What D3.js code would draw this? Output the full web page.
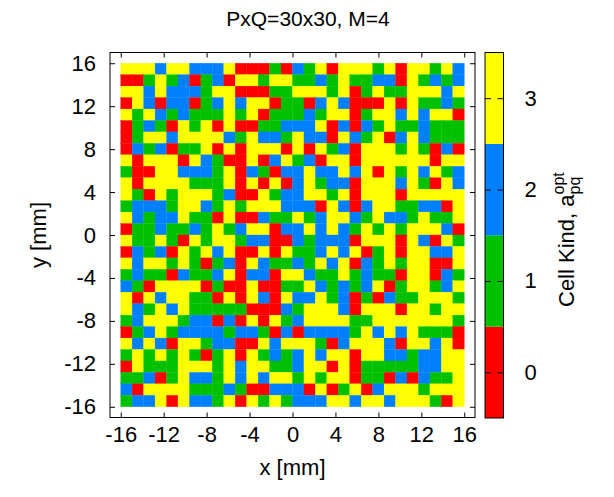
<!DOCTYPE html>
<html>
<head>
<meta charset="utf-8">
<script src="https://cdn.jsdelivr.net/npm/d3@7"></script>
<style>
  html, body { margin: 0; padding: 0; background: #fff; }
  svg text { font-family: "Liberation Sans", Arial, Helvetica, sans-serif; fill: #000; }
</style>
</head>
<body>
<svg id="chart" width="614" height="497"></svg>
<script>
// ---- data ----
const chartTitle = "PxQ=30x30, M=4";
const kindValues = [0, 1, 2, 3];
const kindColors = ["#ff0000", "#00c000", "#0080ff", "#ffff00"];
const xTickValues = [-16, -12, -8, -4, 0, 4, 8, 12, 16];
const yTickValues = [-16, -12, -8, -4, 0, 4, 8, 12, 16];
const cellExtent = [-16, 16];   // mm, both directions
const xLabel = "x [mm]";
const yLabel = "y [mm]";
// optimal cell kind per grid cell; rows run from the top (y = +16) down to y = -16
const cellKinds = [
  [3,3,3,2,3,3,2,2,2,3, 0,0,0,1,0,2,1,3,0,3, 3,3,1,3,0,3,3,1,3,2],
  [0,0,1,3,1,2,0,1,2,0, 3,3,1,3,3,1,1,2,1,3, 1,1,2,2,0,3,1,2,1,2],
  [3,3,2,3,2,2,2,1,3,3, 0,0,0,1,1,3,3,3,1,3, 0,1,3,1,1,3,3,3,2,3],
  [0,3,2,0,2,2,0,1,2,3, 2,3,3,0,1,1,0,2,3,2, 0,0,0,3,0,3,1,1,2,1],
  [3,1,3,2,1,2,1,1,1,3, 1,3,0,1,1,1,2,1,3,3, 0,1,3,3,2,3,2,3,3,0],
  [0,1,2,1,0,3,1,3,0,3, 0,0,1,1,2,2,2,3,0,2, 0,2,1,3,1,1,2,1,1,1],
  [0,1,3,3,2,3,3,3,3,2, 1,3,2,2,1,3,2,2,0,3, 2,1,3,0,2,3,2,1,1,1],
  [0,2,1,2,0,1,1,3,0,3, 0,3,3,3,0,3,0,3,1,2, 0,3,3,3,1,3,1,0,2,0],
  [3,0,3,3,3,0,3,2,1,0, 0,3,0,2,3,1,2,0,3,3, 0,3,3,3,3,3,3,0,3,3],
  [1,0,0,3,3,2,2,2,1,3, 0,2,1,0,2,2,3,2,2,3, 2,3,0,3,1,3,2,3,1,2],
  [3,0,3,3,3,3,1,1,1,3, 0,3,0,3,0,2,3,1,2,2, 0,3,3,3,2,3,1,0,3,2],
  [3,1,0,3,1,3,3,3,1,2, 0,0,3,1,2,2,3,3,1,3, 0,3,3,3,0,3,3,3,3,3],
  [1,2,2,2,1,3,3,2,1,3, 1,3,3,3,2,2,2,0,3,2, 0,2,3,3,1,1,2,2,0,3],
  [3,2,1,2,2,3,1,1,0,3, 0,0,2,1,1,3,1,2,3,3, 2,1,3,2,2,1,3,1,1,3],
  [0,1,1,2,1,1,2,1,3,1, 2,3,3,0,2,2,3,2,3,2, 1,3,1,3,1,3,3,3,2,0],
  [3,1,1,3,1,0,3,1,3,3, 1,2,2,0,0,2,1,2,2,2, 0,3,3,3,0,3,2,0,3,1],
  [0,2,1,2,0,3,1,3,2,3, 0,0,3,0,3,1,1,2,3,2, 3,0,1,3,0,3,3,2,2,3],
  [3,2,3,3,1,3,1,0,1,2, 0,3,2,1,1,2,1,3,2,3, 0,2,1,3,1,3,3,0,0,3],
  [1,2,1,1,0,2,1,1,2,3, 0,2,2,0,3,3,2,1,1,3, 1,2,1,1,0,3,3,0,2,1],
  [2,1,0,3,3,3,3,0,1,0, 0,3,0,0,1,1,3,2,1,2, 1,2,3,0,1,3,3,1,2,3],
  [3,0,3,2,3,3,1,1,0,3, 0,3,2,0,3,2,2,3,1,2, 0,1,0,2,1,1,3,3,3,1],
  [3,2,1,3,2,3,1,1,1,1, 1,0,0,0,2,1,3,3,3,2, 0,3,3,3,0,3,3,1,3,3],
  [1,2,3,3,3,1,2,2,0,2, 0,3,0,3,1,2,3,3,3,3, 1,1,3,3,3,3,3,3,3,1],
  [0,1,2,3,1,2,2,2,2,1, 2,2,1,0,2,0,2,2,2,2, 1,3,2,3,2,3,1,1,1,0],
  [3,2,3,2,0,3,3,1,2,2, 0,0,3,2,3,3,3,1,0,2, 3,3,3,2,0,3,3,2,3,0],
  [1,3,1,3,1,3,1,0,1,3, 0,3,1,2,1,2,3,2,3,3, 0,3,3,2,2,1,2,2,3,3],
  [0,3,1,1,1,3,3,3,1,3, 2,3,3,1,1,2,3,3,0,3, 0,1,1,1,1,1,2,2,3,3],
  [1,1,2,0,1,3,2,2,1,3, 2,3,2,3,3,1,3,1,3,3, 0,1,1,0,2,0,2,1,1,3],
  [2,0,3,3,3,3,1,1,1,2, 1,0,0,2,2,2,0,3,0,1, 3,0,2,3,3,3,1,3,3,3],
  [1,2,2,3,0,3,2,2,1,3, 0,3,1,3,1,2,2,2,3,3, 2,3,3,2,3,3,3,1,0,3]
];

// ---- layout ----
const svg = d3.select("#chart");
const frame = { left: 110, right: 475, top: 52.5, bottom: 417.5 };
const bar = { left: 485, right: 503.5, top: 52.5, bottom: 418 };
const tickLen = 5;
const fontSize = 22;

const x = d3.scaleLinear().domain([-17, 17]).range([frame.left, frame.right]);
const y = d3.scaleLinear().domain([-17, 17]).range([frame.bottom, frame.top]);
const color = d3.scaleOrdinal().domain(kindValues).range(kindColors);

// ---- heat map cells ----
const nRows = cellKinds.length, nCols = cellKinds[0].length;
const dx = (cellExtent[1] - cellExtent[0]) / nCols;
const dy = (cellExtent[1] - cellExtent[0]) / nRows;
const cells = [];
cellKinds.forEach((row, r) => row.forEach((k, c) => {
  cells.push({ x0: cellExtent[0] + c * dx, y1: cellExtent[1] - r * dy, kind: k });
}));

svg.append("g")
  .selectAll("rect")
  .data(cells)
  .join("rect")
  .attr("x", d => x(d.x0))
  .attr("y", d => y(d.y1))
  .attr("width", d => x(d.x0 + dx) - x(d.x0))
  .attr("height", d => y(d.y1 - dy) - y(d.y1))
  .attr("fill", d => color(d.kind))
  .attr("stroke", d => color(d.kind))
  .attr("stroke-width", 0.3);

// ---- axes (ticks on all four sides, pointing inwards) ----
function styleAxis(g, showLabels) {
  g.select(".domain").remove();
  g.selectAll(".tick line").attr("stroke", "#000");
  g.selectAll(".tick text").attr("font-size", fontSize).attr("fill", "#000")
    .style("font-family", "Liberation Sans, Arial, sans-serif");
  if (!showLabels) g.selectAll(".tick text").remove();
}
const fmt = d => d < 0 ? "-" + Math.abs(d) : String(d);

svg.append("g").attr("transform", `translate(0,${frame.bottom})`)
  .call(d3.axisBottom(x).tickValues(xTickValues).tickSize(-tickLen).tickPadding(9).tickFormat(fmt))
  .call(g => styleAxis(g, true));
svg.append("g").attr("transform", `translate(0,${frame.top})`)
  .call(d3.axisTop(x).tickValues(xTickValues).tickSize(-tickLen))
  .call(g => styleAxis(g, false));
svg.append("g").attr("transform", `translate(${frame.left},0)`)
  .call(d3.axisLeft(y).tickValues(yTickValues).tickSize(-tickLen).tickPadding(14).tickFormat(fmt))
  .call(g => styleAxis(g, true));
svg.append("g").attr("transform", `translate(${frame.right},0)`)
  .call(d3.axisRight(y).tickValues(yTickValues).tickSize(-tickLen))
  .call(g => styleAxis(g, false));

svg.append("rect")
  .attr("x", frame.left).attr("y", frame.top)
  .attr("width", frame.right - frame.left).attr("height", frame.bottom - frame.top)
  .attr("fill", "none").attr("stroke", "#000").attr("stroke-width", 1);

// ---- titles ----
svg.append("text")
  .attr("x", 308).attr("y", 26)
  .attr("text-anchor", "middle").attr("font-size", 21)
  .text(chartTitle);

svg.append("text")
  .attr("x", (frame.left + frame.right) / 2).attr("y", 475)
  .attr("text-anchor", "middle").attr("font-size", fontSize)
  .text(xLabel);

svg.append("text")
  .attr("transform", `translate(46,${(frame.top + frame.bottom) / 2}) rotate(-90)`)
  .attr("text-anchor", "middle").attr("font-size", fontSize)
  .text(yLabel);

// ---- colour box ----
const c = d3.scaleLinear().domain([-0.5, 3.5]).range([bar.bottom, bar.top]);
svg.append("g")
  .selectAll("rect")
  .data(kindValues)
  .join("rect")
  .attr("x", bar.left)
  .attr("y", d => c(d + 0.5))
  .attr("width", bar.right - bar.left)
  .attr("height", d => c(d - 0.5) - c(d + 0.5))
  .attr("fill", d => color(d));

svg.append("g").attr("transform", `translate(${bar.right},0)`)
  .call(d3.axisRight(c).tickValues(kindValues).tickSize(-6).tickPadding(21).tickFormat(d3.format("d")))
  .call(g => styleAxis(g, true));
svg.append("g").attr("transform", `translate(${bar.left},0)`)
  .call(d3.axisLeft(c).tickValues(kindValues).tickSize(-6))
  .call(g => styleAxis(g, false));

svg.append("rect")
  .attr("x", bar.left).attr("y", bar.top)
  .attr("width", bar.right - bar.left).attr("height", bar.bottom - bar.top)
  .attr("fill", "none").attr("stroke", "#000").attr("stroke-width", 1);

// colour box label: "Cell Kind, a" with stacked sub/superscript
const cbLabel = svg.append("text")
  .attr("transform", "translate(574,307) rotate(-90)")
  .attr("text-anchor", "start").attr("font-size", fontSize);
cbLabel.append("tspan").text("Cell Kind, a");
const sub = cbLabel.append("tspan").attr("font-size", 16).attr("dy", 6).text("pq");
const subW = sub.node().getComputedTextLength();
cbLabel.append("tspan").attr("font-size", 16).attr("dx", -subW).attr("dy", -16).text("opt");
</script>
</body>
</html>
